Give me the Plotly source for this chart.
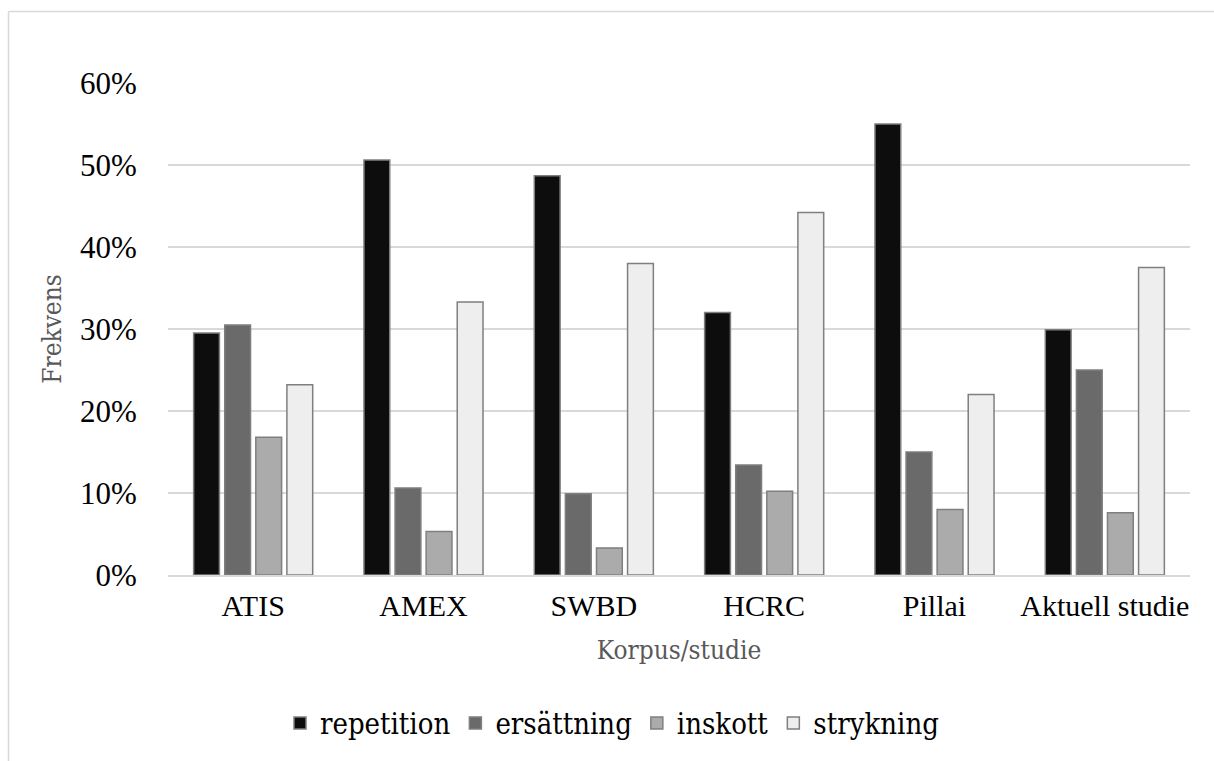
import plotly.graph_objects as go

categories = ["ATIS", "AMEX", "SWBD", "HCRC", "Pillai", "Aktuell studie"]
repetition = [29.5, 50.6, 48.7, 32.0, 55.0, 29.9]
ersattning = [30.5, 10.6, 9.9, 13.4, 15.0, 25.0]
inskott = [16.8, 5.3, 3.3, 10.2, 8.0, 7.6]
strykning = [23.2, 33.3, 38.0, 44.2, 22.0, 37.5]

series = [
    ("repetition", repetition, "#0d0d0d"),
    ("ersättning", ersattning, "#6a6a6a"),
    ("inskott", inskott, "#ababab"),
    ("strykning", strykning, "#eeeeee"),
]

fig = go.Figure()
for name, vals, col in series:
    fig.add_trace(go.Bar(
        x=categories, y=vals, name=name,
        marker=dict(color=col, line=dict(color="#7f7f7f", width=1.5)),
    ))

W, H = 1214, 761
L, R, T, B = 168, 24, 83, 183
pw, ph = W - L - R, H - T - B

def px(x):
    return (x - L) / pw

def py(y):
    return (H - B - y) / ph

cond = "DejaVu Serif Condensed, DejaVu Serif, serif"

fig.update_layout(
    width=W, height=H,
    margin=dict(l=L, r=R, t=T, b=B),
    paper_bgcolor="white", plot_bgcolor="white",
    barmode="group", bargap=0.27, bargroupgap=0.17,
    font=dict(family="Liberation Serif", color="#000000"),
    legend=dict(
        orientation="h", x=px(612), xanchor="center", y=py(727), yanchor="middle",
        font=dict(family=cond, size=29, color="#000000"),
        itemwidth=30, tracegroupgap=0,
    ),
    xaxis=dict(
        showgrid=False, showline=True, linecolor="#d9d9d9", linewidth=1.5,
        ticks="outside", ticklen=3, tickcolor="rgba(0,0,0,0)",
        tickfont=dict(family="Liberation Serif", size=30, color="#000000"),
        title=dict(text="Korpus/studie", standoff=20,
                   font=dict(family=cond, size=26, color="#595959")),
    ),
    yaxis=dict(
        range=[0, 60], dtick=10, ticksuffix="%",
        showgrid=True, gridcolor="#d9d9d9", gridwidth=1.5,
        zeroline=False, showline=False,
        ticks="outside", ticklen=24, tickcolor="rgba(0,0,0,0)",
        tickfont=dict(family="Liberation Serif", size=31, color="#000000"),
        title=dict(text="Frekvens", standoff=10,
                   font=dict(family=cond, size=26, color="#595959")),
    ),
    shapes=[
        dict(type="line", xref="paper", yref="paper", x0=px(8.5), x1=px(1240),
             y0=py(11), y1=py(11), line=dict(color="#d9d9d9", width=1.5)),
        dict(type="line", xref="paper", yref="paper", x0=px(8.5), x1=px(8.5),
             y0=py(11), y1=py(800), line=dict(color="#d9d9d9", width=1.5)),
    ],
)

fig.write_html("out.html", config={"displayModeBar": False},
               post_script="document.body.style.margin='0';document.body.style.overflow='hidden';")
